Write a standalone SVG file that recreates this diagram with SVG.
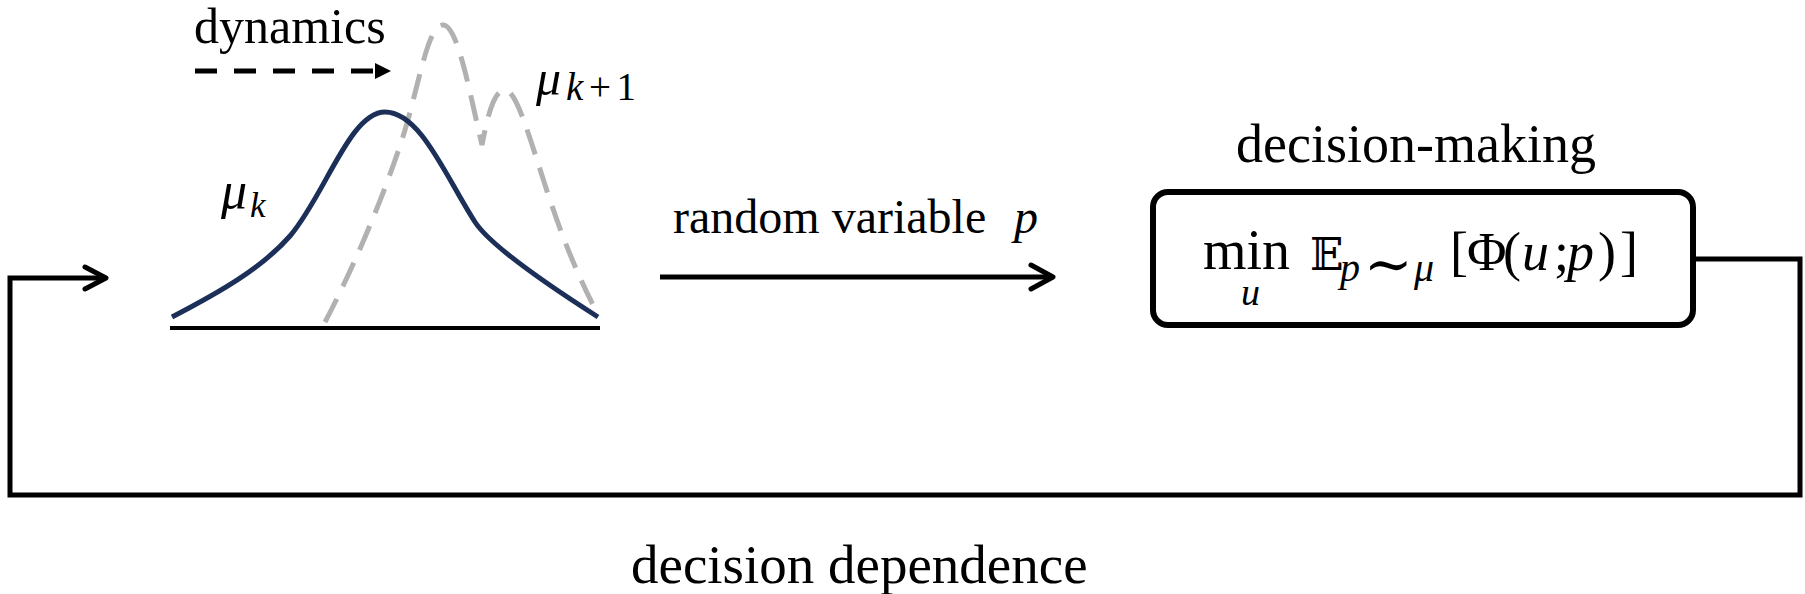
<svg xmlns="http://www.w3.org/2000/svg" width="1805" height="594" viewBox="0 0 1805 594">
<style>
.lbl{font-family:"Liberation Serif","Times New Roman",serif;fill:#000}
.it{font-family:"Liberation Serif","Times New Roman",serif;font-style:italic;fill:#000}
.bb{font-family:"DejaVu Serif","DejaVu Sans",serif;font-style:normal;fill:#000}
.conn{fill:none;stroke:#000;stroke-width:5}
.head{fill:none;stroke:#000;stroke-width:5;stroke-linecap:round;stroke-linejoin:round}
</style>
<rect width="1805" height="594" fill="#fff"/>
<g id="distribution">
  <line x1="170" y1="328" x2="600" y2="328" stroke="#000" stroke-width="4"/>
  <path d="M325,322 C350,275 385,195 405,130 C420,80 428,25 443,25 C458,25 470,95 482,145 C487,120 493,90 505,90 C517,90 530,140 550,200 C570,260 588,295 598,315" fill="none" stroke="#b2b0b0" stroke-width="5" stroke-dasharray="26 14"/>
  <path d="M172,317 C220,292 262,268 290,236 C325,195 350,112 385,112 C420,112 445,175 475,222 C490,245 540,280 598,317" fill="none" stroke="#1b2f58" stroke-width="5"/>
  <text class="it" x="221" y="208" font-size="52">μ</text>
  <text class="it" x="250" y="217" font-size="35">k</text>
  <text class="it" x="536" y="95" font-size="50">μ</text>
  <text x="566" y="100" font-size="39" textLength="70" lengthAdjust="spacing"><tspan class="it">k</tspan><tspan class="lbl">+1</tspan></text>
</g>
<g id="dynamics">
  <text class="lbl" x="194" y="43" font-size="50">dynamics</text>
  <line x1="195" y1="71" x2="373" y2="71" stroke="#000" stroke-width="5" stroke-dasharray="22 17"/>
  <polygon points="375,63 391,71 375,79" fill="#000"/>
</g>
<g id="random-variable">
  <text class="lbl" x="673" y="233" font-size="48">random variable <tspan class="it" x="1014">p</tspan></text>
</g>
<g id="decision-making">
  <text class="lbl" x="1416" y="162" font-size="54" text-anchor="middle">decision-making</text>
  <rect x="1153" y="192" width="540" height="133" rx="15" fill="#fff" stroke="#000" stroke-width="6"/>
  <text class="lbl" font-size="54"><tspan x="1203" y="269" font-size="56">min</tspan><tspan class="it" x="1241" y="305" font-size="38">u</tspan><tspan class="bb" x="1310" y="270" font-size="44">𝔼</tspan><tspan class="it" x="1340" y="281" font-size="40">p</tspan><tspan class="bb" x="1364" y="284" font-size="58">∼</tspan><tspan class="it" x="1414" y="281" font-size="40">μ</tspan><tspan x="1450" y="270">[</tspan><tspan x="1467">Φ</tspan><tspan x="1503">(</tspan><tspan class="it" x="1522">u</tspan><tspan x="1554">;</tspan><tspan class="it" x="1567">p</tspan><tspan x="1598">)</tspan><tspan x="1620">]</tspan></text>
</g>
<g id="decision-dependence">
  <text class="lbl" x="631" y="583" font-size="55">decision dependence</text>
</g>
<g id="connectors">
  <line class="conn" x1="660" y1="277" x2="1051" y2="277"/>
  <polyline class="head" points="1031,265 1053,277 1031,289"/>
  <polyline class="conn" points="1693,259 1800,259 1800,495 10,495 10,278 104,278"/>
  <polyline class="head" points="85,267 106,278 85,289"/>
</g>
</svg>
